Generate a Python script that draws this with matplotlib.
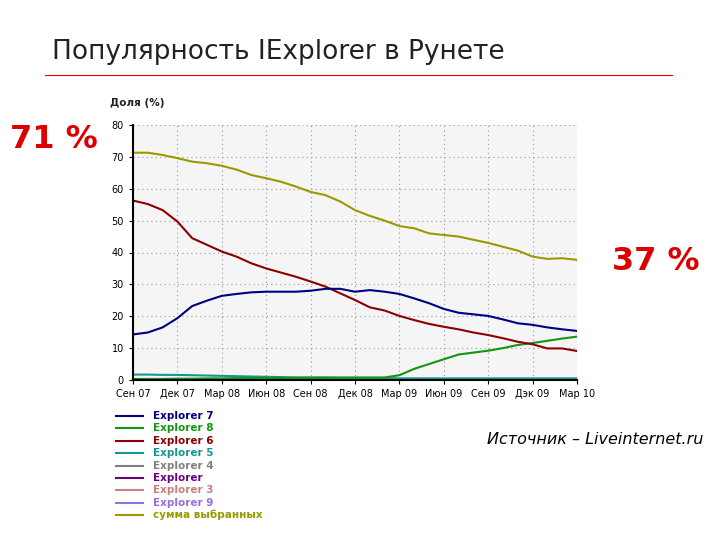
import matplotlib
matplotlib.use("Agg")
import matplotlib.pyplot as plt

months = ["Сен 07","Дек 07","Мар 08","Июн 08","Сен 08","Дек 08","Мар 09","Июн 09","Сен 09","Дэк 09","Мар 10"]
total = [71.3,71.3,70.6,69.6,68.5,68,67.2,66,64.3,63.3,62.2,60.7,59,58,56,53.3,51.5,50,48.3,47.6,46,45.5,45,44,43,41.8,40.6,38.7,38,38.2,37.7]
ie6 = [56.3,55.2,53.3,49.7,44.5,42.4,40.3,38.7,36.6,35,33.7,32.4,30.9,29.3,27.2,25.1,22.8,21.8,20.1,18.8,17.6,16.7,15.9,14.9,14.1,13.1,12,11.2,9.9,9.9,9.1]
ie7 = [14.3,14.9,16.5,19.4,23.2,24.9,26.4,27,27.5,27.7,27.7,27.7,28,28.6,28.6,27.7,28.2,27.7,27,25.6,24.1,22.3,21.1,20.6,20.1,19,17.8,17.3,16.5,15.9,15.4]
ie8 = [0.3,0.3,0.3,0.4,0.4,0.5,0.5,0.6,0.6,0.6,0.7,0.7,0.8,0.8,0.8,0.8,0.8,0.8,1.5,3.5,5,6.5,8,8.6,9.2,10,11,11.6,12.3,13,13.6]
ie5 = [1.7,1.7,1.6,1.6,1.5,1.4,1.3,1.2,1.1,1.0,0.9,0.8,0.7,0.7,0.6,0.6,0.6,0.6,0.5,0.5,0.5,0.5,0.5,0.5,0.5,0.5,0.5,0.5,0.5,0.5,0.5]
ie4 = [0.2]*31
ie_other = [0.3]*31
ie3 = [0.1]*31
ie9 = [0.0]*31

names = ["Explorer 7","Explorer 8","Explorer 6","Explorer 5","Explorer 4","Explorer","Explorer 3","Explorer 9","сумма выбранных"]
colors = ["#000080","#129612","#8b0000","#129696","#808080","#6a0080","#c88080","#9370db","#999900"]
series = [ie7, ie8, ie6, ie5, ie4, ie_other, ie3, ie9, total]

fig = plt.figure(figsize=(7.2,5.4), dpi=100)
W, H = 720, 540
ax = fig.add_axes([133/W, 1-380/H, (577-133)/W, (380-125)/H])
ax.set_facecolor("#f5f5f5")
x = list(range(len(total)))
order = [4,5,6,7,3,1,2,0,8]
for i in order:
    ax.plot(x, series[i], color=colors[i], lw=1.5)
ax.set_xlim(0, 30)
ax.set_ylim(0, 80)
ax.set_xticks(range(0, 31, 3))
ax.set_xticklabels(months, fontsize=7, family="DejaVu Sans")
ax.set_yticks(range(0, 81, 10))
ax.tick_params(labelsize=7, length=3)
ax.grid(True, color="#999999", linestyle=(0,(1,3)), lw=0.8)
for s in ["top","right"]:
    ax.spines[s].set_visible(False)
ax.spines["left"].set_linewidth(1.5)
ax.spines["bottom"].set_linewidth(1.5)

fig.text(52/W, 1-52/H, "Популярность IExplorer в Рунете", fontsize=19, va="center", ha="left", color="#222222")
fig.add_artist(plt.Line2D([45/W, 672/W], [1-75/H, 1-75/H], color="#e00000", lw=0.8))
fig.text(110/W, 1-103/H, "Доля (%)", fontsize=7.5, weight="bold", va="center", color="#222222")
fig.text(10/W, 1-140/H, "71 %", fontsize=23, weight="bold", color="#dd0000", va="center")
fig.text(612/W, 1-262/H, "37 %", fontsize=23, weight="bold", color="#dd0000", va="center")
fig.text(487/W, 1-440/H, "Источник – Liveinternet.ru", fontsize=11.5, style="italic", va="center")

for k, (n, c) in enumerate(zip(names, colors)):
    yy = 1 - (416 + k*12.4)/H
    fig.add_artist(plt.Line2D([116/W, 143/W], [yy, yy], color=c, lw=1.5))
    fig.text(153/W, yy, n, color=c, fontsize=7.5, weight="bold", va="center")

fig.savefig("out.png", dpi=100)
